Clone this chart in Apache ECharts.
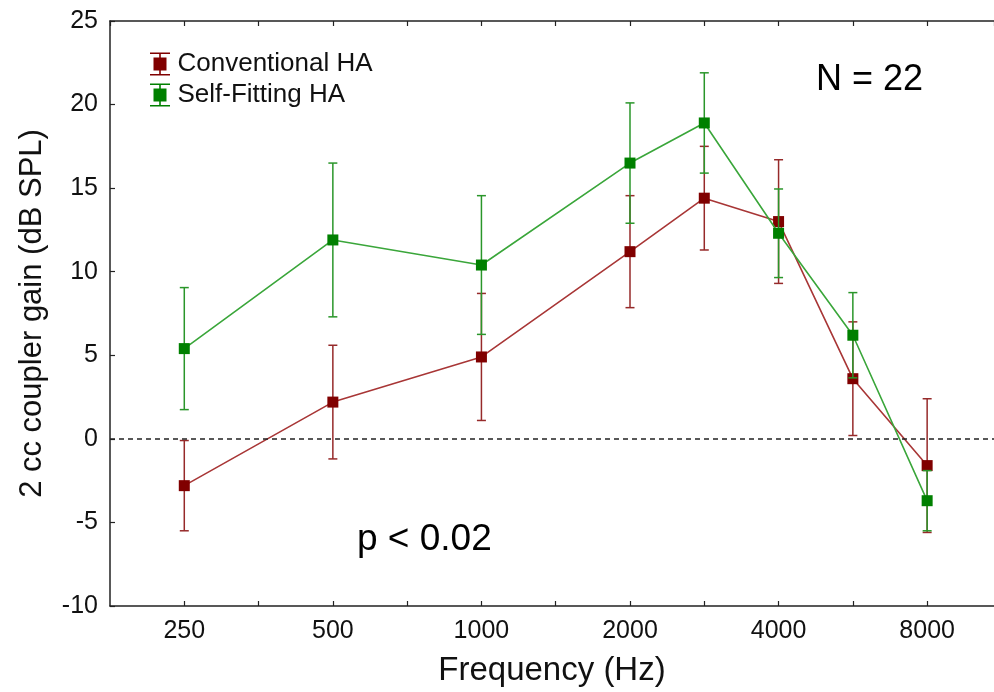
<!DOCTYPE html>
<html>
<head>
<meta charset="utf-8">
<script src="https://cdn.jsdelivr.net/npm/echarts@6/dist/echarts.min.js"></script>
<style>
html,body{margin:0;padding:0;background:#fff;}
#chart{width:994px;height:692px;}
</style>
</head>
<body>
<div id="chart"></div>
<script>
// Frequencies (Hz) of the measurement points
const freqs = [250, 500, 1000, 2000, 3000, 4000, 6000, 8000];
// Labelled octave ticks
const tickLabels = ['250', '500', '1000', '2000', '4000', '8000'];
// Mean 2 cc coupler gain (dB SPL) and error half-widths
const conventional = [-2.8, 2.2, 4.9, 11.2, 14.4, 13.0, 3.6, -1.6];
const conventionalErr = [2.7, 3.4, 3.8, 3.35, 3.1, 3.7, 3.4, 4.0];
const selfFitting = [5.4, 11.9, 10.4, 16.5, 18.9, 12.3, 6.2, -3.7];
const selfFittingErr = [3.65, 4.6, 4.15, 3.6, 3.0, 2.65, 2.55, 1.8];
const seriesNames = ['Conventional HA', 'Self-Fitting HA'];

const FONT = "'Liberation Sans', Arial, sans-serif";
// octave position on the axis (half-octave steps for 3000 / 6000)
const octave = f => Math.round(2 * Math.log2(f / 250)) / 2;

const RED_M = '#800000', RED_L = '#a83636', RED_E = '#962a2a';
const GRN_M = '#008000', GRN_L = '#3aa63a', GRN_E = '#2a962a';

function pts(vals) { return freqs.map((f, i) => [octave(f), vals[i]]); }
function errs(vals, e) { return freqs.map((f, i) => [octave(f), vals[i] - e[i], vals[i] + e[i]]); }

function errorBar(color) {
  return function (params, api) {
    const x = api.value(0);
    const lo = api.coord([x, api.value(1)]);
    const hi = api.coord([x, api.value(2)]);
    const hw = 4.5;
    const style = { stroke: color, lineWidth: 1.5 };
    return {
      type: 'group',
      children: [
        { type: 'line', shape: { x1: lo[0], y1: lo[1], x2: hi[0], y2: hi[1] }, style },
        { type: 'line', shape: { x1: hi[0] - hw, y1: hi[1], x2: hi[0] + hw, y2: hi[1] }, style },
        { type: 'line', shape: { x1: lo[0] - hw, y1: lo[1], x2: lo[0] + hw, y2: lo[1] }, style }
      ]
    };
  };
}

const iconPath = 'path://M0,0H20V1.6H0Z M9.2,0H10.8V23H9.2Z M0,21.4H20V23H0Z M3.5,5H16.5V18H3.5Z';

const chart = echarts.init(document.getElementById('chart'));
chart.setOption({
  animation: false,
  backgroundColor: '#fff',
  textStyle: { fontFamily: FONT },
  grid: { left: 110, right: 0, top: 21, bottom: 84 },
  legend: {
    orient: 'vertical',
    left: 145, top: 46,
    itemWidth: 21, itemHeight: 23, itemGap: 5,
    icon: iconPath,
    data: seriesNames,
    textStyle: { fontFamily: FONT, fontSize: 26, color: '#111', padding: [0, 0, 0, 2] }
  },
  xAxis: [{
    type: 'value', position: 'bottom',
    min: -0.5, max: 5.45, interval: 0.5,
    name: 'Frequency (Hz)', nameLocation: 'middle', nameGap: 48,
    nameTextStyle: { fontFamily: FONT, fontSize: 33, color: '#111' },
    axisLine: { onZero: false, lineStyle: { color: '#222', width: 1.5 } },
    axisTick: { inside: true, length: 5, lineStyle: { color: '#222', width: 1.2 } },
    axisLabel: {
      fontFamily: FONT, fontSize: 25, color: '#111', margin: 13,
      showMaxLabel: false, showMinLabel: false,
      formatter: v => (Number.isInteger(v) && v >= 0 && v < tickLabels.length) ? tickLabels[v] : ''
    },
    splitLine: { show: false }
  }, {
    type: 'value', position: 'top',
    min: -0.5, max: 5.45, interval: 0.5,
    axisLine: { show: true, onZero: false, lineStyle: { color: '#222', width: 1.5 } },
    axisTick: { inside: true, length: 5, lineStyle: { color: '#222', width: 1.2 } },
    axisLabel: { show: false },
    splitLine: { show: false }
  }],
  yAxis: {
    type: 'value', min: -10, max: 25, interval: 5,
    name: '2 cc coupler gain (dB SPL)', nameLocation: 'middle', nameGap: 62,
    nameTextStyle: { fontFamily: FONT, fontSize: 31, color: '#111' },
    axisLine: { show: true, onZero: false, lineStyle: { color: '#222', width: 1.5 } },
    axisTick: { inside: true, length: 5, lineStyle: { color: '#222', width: 1.2 } },
    axisLabel: { fontFamily: FONT, fontSize: 25, color: '#111', margin: 12 },
    splitLine: { show: false }
  },
  series: [
    {
      type: 'custom', name: seriesNames[0], data: errs(conventional, conventionalErr),
      renderItem: errorBar(RED_E), itemStyle: { color: RED_M }, z: 2, silent: true,
      encode: { x: 0, y: [1, 2] }
    },
    {
      type: 'line', name: seriesNames[0], data: pts(conventional),
      symbol: 'rect', symbolSize: 11, showAllSymbol: true,
      itemStyle: { color: RED_M }, lineStyle: { color: RED_L, width: 1.6 }, z: 3,
      markLine: {
        silent: true, symbol: 'none', label: { show: false },
        lineStyle: { color: '#222', type: [5, 4], width: 1.5 },
        data: [{ yAxis: 0 }]
      }
    },
    {
      type: 'custom', name: seriesNames[1], data: errs(selfFitting, selfFittingErr),
      renderItem: errorBar(GRN_E), itemStyle: { color: GRN_M }, z: 4, silent: true,
      encode: { x: 0, y: [1, 2] }
    },
    {
      type: 'line', name: seriesNames[1], data: pts(selfFitting),
      symbol: 'rect', symbolSize: 11, showAllSymbol: true,
      itemStyle: { color: GRN_M }, lineStyle: { color: GRN_L, width: 1.6 }, z: 5
    }
  ],
  graphic: [
    { type: 'text', left: 816, top: 62, style: { text: 'N = 22', font: "36px 'Liberation Sans', Arial, sans-serif", fill: '#000' } },
    { type: 'text', left: 357, top: 521, style: { text: 'p < 0.02', font: "37px 'Liberation Sans', Arial, sans-serif", fill: '#000' } }
  ]
});
</script>
</body>
</html>
